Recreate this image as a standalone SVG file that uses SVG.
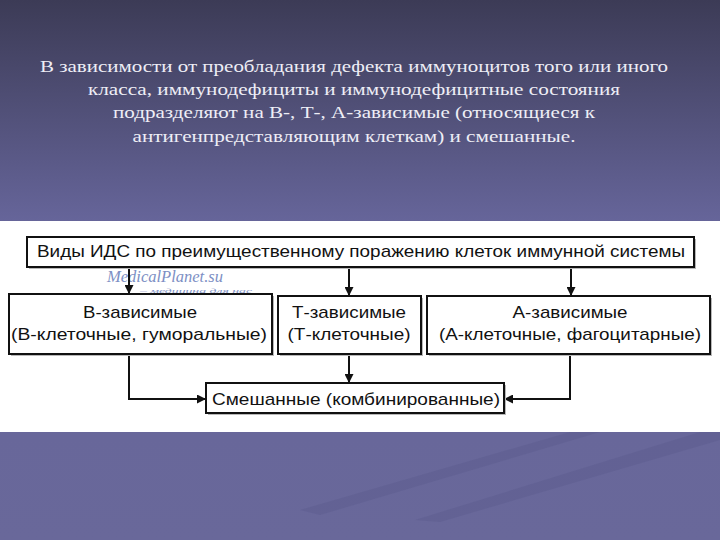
<svg xmlns="http://www.w3.org/2000/svg" width="720" height="540" viewBox="0 0 720 540">
<defs>
<linearGradient id="bg" x1="0" y1="0" x2="0" y2="1">
<stop offset="0" stop-color="#3c3b56"/>
<stop offset="0.41" stop-color="#66659a"/>
<stop offset="1" stop-color="#69689a"/>
</linearGradient>
<marker id="ah" viewBox="0 0 10 10" refX="10" refY="5" markerWidth="9" markerHeight="9" markerUnits="userSpaceOnUse" orient="auto">
<path d="M0,0 L10,5 L0,10 Z" fill="#111"/>
</marker>
<style>
.title{font-family:"Liberation Serif","DejaVu Serif",serif;font-size:17px;fill:#eeeef6;text-anchor:middle}
.box{fill:#fff;stroke:#111;stroke-width:2}
.shadow{fill:#b8b8b8}
.lbl{font-family:"Liberation Sans",Arial,sans-serif;font-size:17px;fill:#111;text-anchor:middle}
.conn{fill:none;stroke:#111;stroke-width:2}
.wm{font-family:"Liberation Serif",serif;font-style:italic;fill:#7d8fc4}
</style>
</defs>
<rect x="0" y="0" width="720" height="540" fill="url(#bg)"/>
<path d="M300,510 L570,432 L600,432 L320,515 Z" fill="#5b5a8c" opacity="0.4"/>
<path d="M415,520 L700,432 L720,432 L720,440 L440,522 Z" fill="#5b5a8c" opacity="0.4"/>
<g id="title">
<text class="title" x="354" y="72" textLength="628" lengthAdjust="spacingAndGlyphs">В зависимости от преобладания дефекта иммуноцитов того или иного</text>
<text class="title" x="354" y="95" textLength="532" lengthAdjust="spacingAndGlyphs">класса, иммунодефициты и иммунодефицитные состояния</text>
<text class="title" x="354" y="118" textLength="482" lengthAdjust="spacingAndGlyphs">подразделяют на В-, Т-, А-зависимые (относящиеся к</text>
<text class="title" x="354" y="142" textLength="443" lengthAdjust="spacingAndGlyphs">антигенпредставляющим клеткам) и смешанные.</text>
</g>
<rect x="0" y="221" width="720" height="211" fill="#fff"/>
<g id="watermark">
<text class="wm" x="107" y="282" font-size="16" textLength="116" lengthAdjust="spacingAndGlyphs">MedicalPlanet.su</text>
<text class="wm" x="140" y="293" font-size="7" textLength="112" lengthAdjust="spacingAndGlyphs" text-decoration="underline">– медицина для нас</text>
</g>
<g id="connectors">
<line class="conn" x1="129" y1="267" x2="129" y2="294" marker-end="url(#ah)"/>
<line class="conn" x1="349" y1="267" x2="349" y2="296" marker-end="url(#ah)"/>
<line class="conn" x1="571" y1="267" x2="571" y2="296" marker-end="url(#ah)"/>
<path class="conn" d="M129,354 V399 H206" marker-end="url(#ah)"/>
<line class="conn" x1="349" y1="354" x2="349" y2="383" marker-end="url(#ah)"/>
<path class="conn" d="M570,354 V399 H504" marker-end="url(#ah)"/>
</g>
<g id="top">
<rect class="shadow" x="29" y="239" width="667" height="30"/>
<rect class="box" x="27" y="237" width="667" height="30"/>
<text class="lbl" x="361" y="257" textLength="648" lengthAdjust="spacingAndGlyphs">Виды ИДС по преимущественному поражению клеток иммунной системы</text>
</g>
<g id="b-dep">
<rect class="shadow" x="11" y="296" width="263" height="60"/>
<rect class="box" x="9" y="294" width="263" height="60"/>
<text class="lbl" x="140" y="318" textLength="114" lengthAdjust="spacingAndGlyphs">В-зависимые</text>
<text class="lbl" x="139" y="340" textLength="256" lengthAdjust="spacingAndGlyphs">(В-клеточные, гуморальные)</text>
</g>
<g id="t-dep">
<rect class="shadow" x="280" y="298" width="143" height="58"/>
<rect class="box" x="278" y="296" width="143" height="58"/>
<text class="lbl" x="349" y="318" textLength="114" lengthAdjust="spacingAndGlyphs">Т-зависимые</text>
<text class="lbl" x="349" y="340" textLength="123" lengthAdjust="spacingAndGlyphs">(Т-клеточные)</text>
</g>
<g id="a-dep">
<rect class="shadow" x="429" y="298" width="283" height="58"/>
<rect class="box" x="427" y="296" width="283" height="58"/>
<text class="lbl" x="570" y="318" textLength="115" lengthAdjust="spacingAndGlyphs">А-зависимые</text>
<text class="lbl" x="570" y="340" textLength="262" lengthAdjust="spacingAndGlyphs">(А-клеточные, фагоцитарные)</text>
</g>
<g id="mixed">
<rect class="shadow" x="208" y="385" width="298" height="30"/>
<rect class="box" x="206" y="383" width="298" height="30"/>
<text class="lbl" x="356" y="405" textLength="288" lengthAdjust="spacingAndGlyphs">Смешанные (комбинированные)</text>
</g>
</svg>
